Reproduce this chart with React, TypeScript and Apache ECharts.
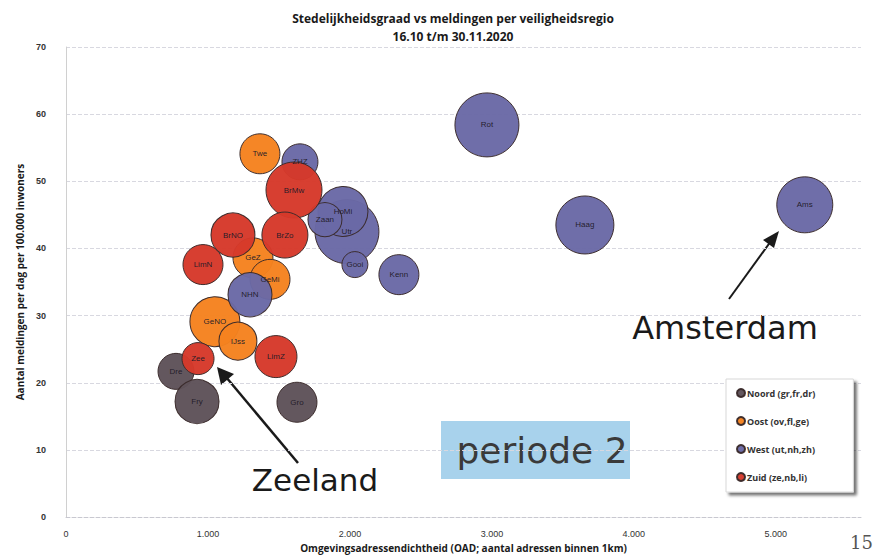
import React, { useEffect, useRef } from "react";
import * as echarts from "echarts";

// [name, OAD (addresses within 1km), reports per day per 100k, population (thousands)]
const noord: [string, number, number, number][] = [
  ["Dre", 775, 21.7, 413],
  ["Fry", 923, 17.2, 617],
  ["Gro", 1627, 17.1, 510],
];
const oost: [string, number, number, number][] = [
  ["Twe", 1366, 54.1, 510],
  ["GeZ", 1317, 38.6, 510],
  ["GeMi", 1437, 35.4, 510],
  ["GeNO", 1049, 29.1, 797],
  ["IJss", 1211, 26.2, 460],
];
const west: [string, number, number, number][] = [
  ["Rot", 2965, 58.4, 1306],
  ["Haag", 3655, 43.5, 1073],
  ["Ams", 5204, 46.5, 1000],
  ["ZHZ", 1648, 52.9, 413],
  ["Utr", 1979, 42.5, 1306],
  ["HoMi", 1951, 45.5, 797],
  ["Zaan", 1824, 44.3, 369],
  ["Gooi", 2035, 37.6, 216],
  ["Kenn", 2345, 36.1, 510],
  ["NHN", 1296, 33.1, 617],
];
const zuid: [string, number, number, number][] = [
  ["BrMw", 1606, 48.7, 1000],
  ["BrNO", 1176, 42.0, 617],
  ["BrZo", 1542, 42.0, 675],
  ["LimN", 965, 37.6, 510],
  ["Zee", 930, 23.6, 327],
  ["LimZ", 1479, 23.9, 563],
];
const groupNames = [
  "Noord (gr,fr,dr)",
  "Oost (ov,fl,ge)",
  "West (ut,nh,zh)",
  "Zuid (ze,nb,li)",
];
const groupColors = ["#5e5259", "#f5821f", "#6a69a6", "#d6392a"];
const xTicks = [0, 1000, 2000, 3000, 4000, 5000];

export default function App() {
  const ref = useRef<HTMLDivElement>(null);
  useEffect(() => {
    if (!ref.current) return;
    const chart = echarts.init(ref.current, undefined, { renderer: "svg" });
    const groups = [noord, oost, west, zuid];
    const series = groups.map((g, i) => ({
      name: groupNames[i],
      type: "scatter",
      data: g.map((d) => ({ name: d[0], value: [d[1], d[2], d[3]] })),
      symbolSize: (v: number[]) => 56 * Math.sqrt(v[2] / 1000),
      itemStyle: {
        color: groupColors[i],
        borderColor: "#3a2a2a",
        borderWidth: 1,
        opacity: 0.97,
      },
      label: {
        show: true,
        position: "inside",
        formatter: (p: any) => p.name,
        fontSize: 8,
        color: "#221a28",
        fontFamily: "Liberation Sans",
      },
    }));
    chart.setOption({
      animation: false,
      backgroundColor: "#ffffff",
      textStyle: { fontFamily: "Liberation Sans" },
      title: {
        text: "Stedelijkheidsgraad vs meldingen per veiligheidsregio\n16.10 t/m 30.11.2020",
        left: 448,
        top: 4,
        textAlign: "center",
        textStyle: {
          fontSize: 12,
          fontWeight: "bold",
          color: "#1a1a1a",
          lineHeight: 18,
          fontFamily: "Open Sans",
        },
      },
      grid: { left: 66, right: 14, top: 47, bottom: 40 },
      xAxis: {
        type: "value",
        min: 0,
        max: 5600,
        interval: 1000,
        name: "Omgevingsadressendichtheid (OAD; aantal adressen binnen 1km)",
        nameLocation: "middle",
        nameGap: 24,
        nameTextStyle: {
          fontSize: 10,
          fontWeight: "bold",
          color: "#1a1a1a",
          fontFamily: "Open Sans",
        },
        axisLine: { show: true, lineStyle: { color: "#c8c8d0", type: "dashed" } },
        axisTick: { show: false },
        splitLine: { show: false },
        axisLabel: {
          showMaxLabel: false,
          fontSize: 9,
          color: "#333",
          margin: 12,
          formatter: (v: number) =>
            xTicks.includes(v) ? (v === 0 ? "0" : (v / 1000).toFixed(3)) : "",
        },
      },
      yAxis: {
        type: "value",
        min: 0,
        max: 70,
        interval: 10,
        name: "Aantal meldingen per dag per 100.000 inwoners",
        nameLocation: "middle",
        nameGap: 34,
        nameTextStyle: {
          fontSize: 10,
          fontWeight: "bold",
          color: "#1a1a1a",
          fontFamily: "Open Sans",
        },
        axisLine: { show: true, lineStyle: { color: "#d0d0d0" } },
        axisTick: { show: false },
        splitLine: { show: true, lineStyle: { color: "#d8d8e0", type: "dashed" } },
        axisLabel: { fontSize: 9, color: "#333", margin: 20, fontWeight: "bold" },
      },
      legend: {
        orient: "vertical",
        left: 726,
        top: 379,
        itemWidth: 8,
        itemHeight: 8,
        itemGap: 18,
        icon: "circle",
        padding: [9, 38, 10, 10],
        backgroundColor: "#ffffff",
        borderColor: "#d8d8d8",
        borderWidth: 1,
        shadowColor: "rgba(0,0,0,0.55)",
        shadowBlur: 3,
        shadowOffsetX: 3,
        shadowOffsetY: 3,
        textStyle: {
          fontSize: 9,
          fontWeight: "bold",
          color: "#333",
          padding: [0, 0, 0, -3],
          fontFamily: "Open Sans",
        },
        data: groupNames,
      },
      graphic: [
        {
          type: "rect",
          shape: { x: 441, y: 421, width: 189, height: 58 },
          style: { fill: "#a8d2ec" },
        },
        {
          type: "text",
          x: 542,
          y: 450,
          style: {
            text: "periode 2",
            fontSize: 36,
            fontFamily: "DejaVu Sans",
            fill: "#3a3a3a",
            textAlign: "center",
            textVerticalAlign: "middle",
          },
        },
        {
          type: "text",
          x: 725,
          y: 328,
          style: {
            text: "Amsterdam",
            fontSize: 32,
            fontFamily: "DejaVu Sans",
            fill: "#1a1a1a",
            textAlign: "center",
            textVerticalAlign: "middle",
          },
        },
        {
          type: "line",
          shape: { x1: 729, y1: 299, x2: 771, y2: 241 },
          style: { stroke: "#1a1a1a", lineWidth: 2 },
        },
        {
          type: "polygon",
          shape: { points: [[779, 231], [763, 240], [774, 248]] },
          style: { fill: "#1a1a1a" },
        },
        {
          type: "text",
          x: 315,
          y: 480,
          style: {
            text: "Zeeland",
            fontSize: 31,
            fontFamily: "DejaVu Sans",
            fill: "#1a1a1a",
            textAlign: "center",
            textVerticalAlign: "middle",
          },
        },
        {
          type: "line",
          shape: { x1: 298, y1: 463, x2: 226, y2: 377 },
          style: { stroke: "#1a1a1a", lineWidth: 2.5 },
        },
        {
          type: "polygon",
          shape: { points: [[217, 367], [221, 385], [234, 374]] },
          style: { fill: "#1a1a1a" },
        },
        {
          type: "text",
          x: 850,
          y: 533,
          style: {
            text: "15",
            fontSize: 18,
            fontFamily: "DejaVu Serif",
            fill: "#555",
          },
        },
      ],
      series,
    });
    return () => chart.dispose();
  }, []);
  return (
    <div
      ref={ref}
      style={{ position: "fixed", left: 0, top: 0, width: 875, height: 558 }}
    />
  );
}
